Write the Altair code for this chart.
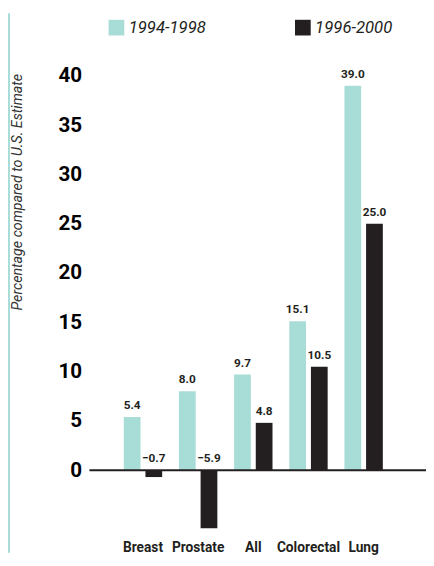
import altair as alt
import pandas as pd

sites = ['Breast', 'Prostate', 'All', 'Colorectal', 'Lung']
period_a = [5.4, 8.0, 9.7, 15.1, 39.0]
period_b = [-0.7, -5.9, 4.8, 10.5, 25.0]
periods = ['1994-1998', '1996-2000']

rows = []
for s, a, b in zip(sites, period_a, period_b):
    rows.append({'site': s, 'period': periods[0], 'value': a})
    rows.append({'site': s, 'period': periods[1], 'value': b})
df = pd.DataFrame(rows)

FONT = 'Roboto, sans-serif'
TEAL = '#a8ddd7'
DARK = '#231f20'
Y_TITLE = 'Percentage compared to U.S. Estimate'

x_enc = alt.X('site:N', sort=sites, title=None,
              scale=alt.Scale(range=[35, 299], paddingInner=0.304, paddingOuter=0),
              axis=alt.Axis(domain=False, ticks=False, labelAngle=0, labelFont=FONT,
                            labelFontSize=14, labelFontWeight='bold', labelColor=DARK,
                            labelPadding=12, orient='bottom'))
xo_enc = alt.XOffset('period:N', sort=periods,
                     scale=alt.Scale(paddingInner=0.227, paddingOuter=0))

y_scale = alt.Scale(domain=[-6, 40], nice=False, zero=False)
y_axis = alt.Axis(values=list(range(0, 41, 5)), domain=False, ticks=False, grid=False,
                  labelFont=FONT, labelFontSize=21, labelFontWeight='bold',
                  labelColor='black', labelPadding=8,
                  titleFont=FONT, titleFontSize=14.5, titleFontStyle='italic',
                  titleFontWeight='normal', titleColor='#333333',
                  titleX=-73, titleY=118, titleAlign='center', titleAngle=-90,
                  titleBaseline='middle')

base = alt.Chart(df)

bars = base.mark_bar().encode(
    x=x_enc, xOffset=xo_enc,
    y=alt.Y('value:Q', title=Y_TITLE, scale=y_scale, axis=y_axis),
    color=alt.Color('period:N', sort=periods,
                    scale=alt.Scale(domain=periods, range=[TEAL, DARK]),
                    legend=alt.Legend(title=None, orient='none', direction='horizontal',
                                      legendX=19, legendY=-58, symbolType='square',
                                      symbolSize=256, symbolStrokeWidth=0, symbolOpacity=1,
                                      labelFont=FONT, labelFontSize=17, labelFontStyle='italic',
                                      labelColor=DARK, columnPadding=90, labelOffset=4))
)

labels = base.transform_calculate(
    ypos='max(datum.value, 0)',
    label='format(datum.value, ".1f")'
).mark_text(baseline='bottom', dy=-5, font=FONT, fontSize=12, fontWeight='bold',
            color=DARK).encode(
    x=x_enc, xOffset=xo_enc,
    y=alt.Y('ypos:Q', title=Y_TITLE, scale=y_scale, axis=y_axis),
    text='label:N'
)

zero_line = alt.Chart(pd.DataFrame({'y': [0]})).mark_rule(color=DARK, strokeWidth=2).encode(
    y=alt.Y('y:Q', title=Y_TITLE, scale=y_scale, axis=y_axis)
)

edge = alt.Chart(pd.DataFrame({'y': [0]})).mark_rule(color=TEAL, strokeWidth=2).encode(
    x=alt.value(-82), y=alt.value(-64), y2=alt.value(486)
)

chart = alt.layer(bars, zero_line, labels, edge).properties(
    width=343, height=462, background='white',
    autosize=alt.AutoSizeParams(type='none'),
    padding={'left': 83, 'top': 64, 'right': 0, 'bottom': 24}
).configure_view(strokeWidth=0).configure_axis(
    domain=False, grid=False, ticks=False
)

chart.save('out.html', embed_options={'renderer': 'svg', 'actions': False})
